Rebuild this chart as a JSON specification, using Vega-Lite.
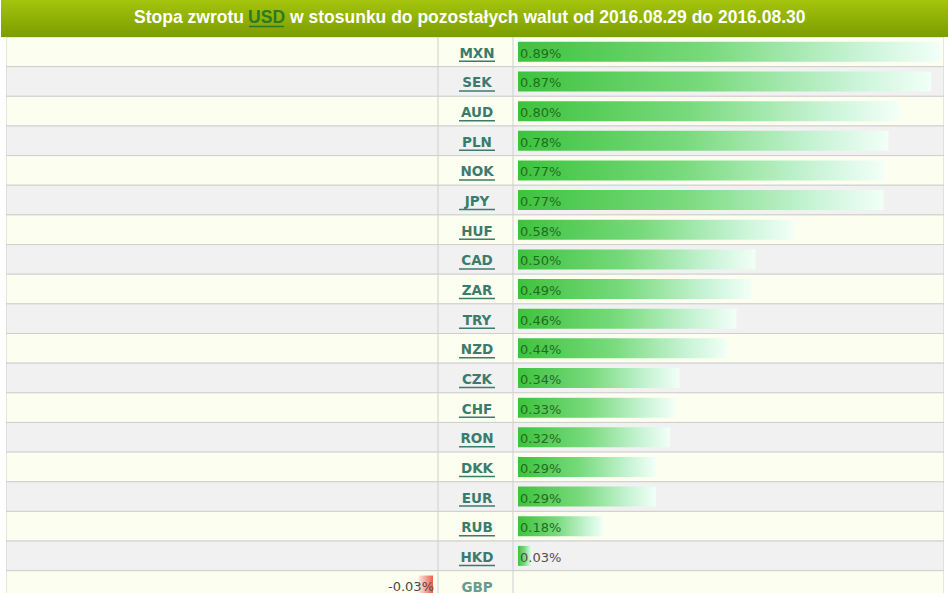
{
  "$schema": "https://vega.github.io/schema/vega-lite/v6.json",
  "padding": 0,
  "background": "white",
  "spacing": 0,
  "bounds": "flush",
  "config": {"view": {"stroke": null}, "axis": {"disable": true}, "concat": {"spacing": 0}},
  "datasets": {
    "rates": [
      {"ccy": "MXN", "value": 0.89},
      {"ccy": "SEK", "value": 0.87},
      {"ccy": "AUD", "value": 0.80},
      {"ccy": "PLN", "value": 0.78},
      {"ccy": "NOK", "value": 0.77},
      {"ccy": "JPY", "value": 0.77},
      {"ccy": "HUF", "value": 0.58},
      {"ccy": "CAD", "value": 0.50},
      {"ccy": "ZAR", "value": 0.49},
      {"ccy": "TRY", "value": 0.46},
      {"ccy": "NZD", "value": 0.44},
      {"ccy": "CZK", "value": 0.34},
      {"ccy": "CHF", "value": 0.33},
      {"ccy": "RON", "value": 0.32},
      {"ccy": "DKK", "value": 0.29},
      {"ccy": "EUR", "value": 0.29},
      {"ccy": "RUB", "value": 0.18},
      {"ccy": "HKD", "value": 0.03},
      {"ccy": "GBP", "value": -0.03}
    ],
    "heading": [
      {"before": "Stopa zwrotu", "base": "USD", "after": "w stosunku do pozostałych walut od 2016.08.29 do 2016.08.30"}
    ]
  },
  "vconcat": [
    {
      "width": 948,
      "height": 37,
      "data": {"name": "heading"},
      "layer": [
        {
          "mark": {"type": "rect", "fill": {"gradient": "linear", "x1": 0, "y1": 0, "x2": 0, "y2": 1, "stops": [{"offset": 0, "color": "#a5c40c"}, {"offset": 1, "color": "#7b9d00"}]}},
          "encoding": {
            "x": {"datum": 0, "type": "quantitative", "scale": {"domain": [0, 1]}, "axis": null},
            "x2": {"datum": 1},
            "y": {"datum": 0, "type": "quantitative", "scale": {"domain": [0, 1]}, "axis": null},
            "y2": {"datum": 1}
          }
        },
        {
          "mark": {"type": "text", "align": "right", "baseline": "middle", "font": "Liberation Sans", "fontWeight": "bold", "fontSize": 17.5, "color": "white", "dy": -1},
          "encoding": {
            "text": {"field": "before"},
            "x": {"datum": 0.2563, "type": "quantitative"},
            "y": {"datum": 0.5, "type": "quantitative"}
          }
        },
        {
          "mark": {"type": "text", "align": "center", "baseline": "middle", "font": "Liberation Sans", "fontWeight": "bold", "fontSize": 17.5, "color": "#2a7a25", "dy": -1},
          "encoding": {
            "text": {"field": "base"},
            "x": {"datum": 0.2801, "type": "quantitative"},
            "y": {"datum": 0.5, "type": "quantitative"}
          }
        },
        {
          "mark": {"type": "rule", "color": "#2a7a25", "strokeWidth": 1.5, "yOffset": 8},
          "encoding": {
            "x": {"datum": 0.2616, "type": "quantitative"},
            "x2": {"datum": 0.2985},
            "y": {"datum": 0.5, "type": "quantitative"}
          }
        },
        {
          "mark": {"type": "text", "align": "left", "baseline": "middle", "font": "Liberation Sans", "fontWeight": "bold", "fontSize": 17.5, "color": "white", "dy": -1},
          "encoding": {
            "text": {"field": "after"},
            "x": {"datum": 0.3049, "type": "quantitative"},
            "y": {"datum": 0.5, "type": "quantitative"}
          }
        }
      ]
    },
    {
      "spacing": 0,
      "bounds": "flush",
      "hconcat": [
        {
          "width": 5,
          "height": 556,
          "data": {"values": [{}]},
          "mark": {"type": "point", "opacity": 0},
          "encoding": {}
        },
        {
          "width": 432,
          "height": 556,
          "data": {"name": "rates"},
          "encoding": {
            "y": {"field": "ccy", "type": "nominal", "axis": null,
              "scale": {"domain": ["MXN","SEK","AUD","PLN","NOK","JPY","HUF","CAD","ZAR","TRY","NZD","CZK","CHF","RON","DKK","EUR","RUB","HKD","GBP"], "range": [0, 563.35], "paddingInner": 0, "paddingOuter": 0}}
          },
          "layer": [
            {
              "mark": {"type": "rect", "stroke": "#cfcfcf", "strokeWidth": 1, "clip": true},
              "encoding": {
                "fill": {"field": "ccy", "type": "nominal", "legend": null,
                  "scale": {"domain": ["MXN","SEK","AUD","PLN","NOK","JPY","HUF","CAD","ZAR","TRY","NZD","CZK","CHF","RON","DKK","EUR","RUB","HKD","GBP"],
                    "range": ["#fcffef","#f1f1f1","#fcffef","#f1f1f1","#fcffef","#f1f1f1","#fcffef","#f1f1f1","#fcffef","#f1f1f1","#fcffef","#f1f1f1","#fcffef","#f1f1f1","#fcffef","#f1f1f1","#fcffef","#f1f1f1","#fcffef"]}}
              }
            },
            {
              "transform": [{"filter": "datum.value < 0"}],
              "mark": {"type": "bar", "height": 20, "clip": true, "fill": {"gradient": "linear", "x1": 1, "y1": 0, "x2": 0, "y2": 0, "stops": [{"offset": 0, "color": "#e8604e"}, {"offset": 1, "color": "#fde6de"}]}},
              "encoding": {
                "x": {"field": "value", "type": "quantitative", "axis": null, "scale": {"domain": [-0.8989, 0.01053], "nice": false, "zero": false}},
                "x2": {"datum": 0}
              }
            },
            {
              "transform": [{"filter": "datum.value < 0"}],
              "mark": {"type": "text", "align": "right", "baseline": "middle", "dy": 1, "dx": 1, "font": "DejaVu Sans", "fontSize": 13, "color": "#4a4a4a", "clip": true,
                "text": {"expr": "(datum.value < 0 ? '-' : '') + format(abs(datum.value), '.2f') + '%'"}},
              "encoding": {
                "x": {"datum": 0, "type": "quantitative"}
              }
            }
          ]
        },
        {
          "width": 75,
          "height": 556,
          "data": {"name": "rates"},
          "encoding": {
            "y": {"field": "ccy", "type": "nominal", "axis": null,
              "scale": {"domain": ["MXN","SEK","AUD","PLN","NOK","JPY","HUF","CAD","ZAR","TRY","NZD","CZK","CHF","RON","DKK","EUR","RUB","HKD","GBP"], "range": [0, 563.35], "paddingInner": 0, "paddingOuter": 0}}
          },
          "layer": [
            {
              "mark": {"type": "rect", "stroke": "#cfcfcf", "strokeWidth": 1, "clip": true},
              "encoding": {
                "fill": {"field": "ccy", "type": "nominal", "legend": null,
                  "scale": {"domain": ["MXN","SEK","AUD","PLN","NOK","JPY","HUF","CAD","ZAR","TRY","NZD","CZK","CHF","RON","DKK","EUR","RUB","HKD","GBP"],
                    "range": ["#fcffef","#f1f1f1","#fcffef","#f1f1f1","#fcffef","#f1f1f1","#fcffef","#f1f1f1","#fcffef","#f1f1f1","#fcffef","#f1f1f1","#fcffef","#f1f1f1","#fcffef","#f1f1f1","#fcffef","#f1f1f1","#fcffef"]}}
              }
            },
            {
              "mark": {"type": "text", "align": "center", "baseline": "middle", "dy": 2, "font": "DejaVu Sans", "fontWeight": "bold", "fontSize": 13.5, "clip": true},
              "encoding": {
                "text": {"field": "ccy"},
                "x": {"datum": 0.52, "type": "quantitative", "scale": {"domain": [0, 1]}},
                "color": {"condition": {"test": "datum.value < 0", "value": "#6a9a8c"}, "value": "#3b7b6c"}
              }
            },
            {
              "transform": [{"filter": "datum.value >= 0"}],
              "mark": {"type": "rule", "color": "#3b7b6c", "strokeWidth": 1.5, "yOffset": 9.5, "clip": true},
              "encoding": {
                "x": {"datum": 0.28, "type": "quantitative"},
                "x2": {"datum": 0.76}
              }
            }
          ]
        },
        {
          "width": 431,
          "height": 556,
          "data": {"name": "rates"},
          "encoding": {
            "y": {"field": "ccy", "type": "nominal", "axis": null,
              "scale": {"domain": ["MXN","SEK","AUD","PLN","NOK","JPY","HUF","CAD","ZAR","TRY","NZD","CZK","CHF","RON","DKK","EUR","RUB","HKD","GBP"], "range": [0, 563.35], "paddingInner": 0, "paddingOuter": 0}}
          },
          "layer": [
            {
              "mark": {"type": "rect", "stroke": "#cfcfcf", "strokeWidth": 1, "clip": true},
              "encoding": {
                "fill": {"field": "ccy", "type": "nominal", "legend": null,
                  "scale": {"domain": ["MXN","SEK","AUD","PLN","NOK","JPY","HUF","CAD","ZAR","TRY","NZD","CZK","CHF","RON","DKK","EUR","RUB","HKD","GBP"],
                    "range": ["#fcffef","#f1f1f1","#fcffef","#f1f1f1","#fcffef","#f1f1f1","#fcffef","#f1f1f1","#fcffef","#f1f1f1","#fcffef","#f1f1f1","#fcffef","#f1f1f1","#fcffef","#f1f1f1","#fcffef","#f1f1f1","#fcffef"]}}
              }
            },
            {
              "transform": [{"filter": "datum.value > 0"}],
              "mark": {"type": "bar", "height": 20, "clip": true, "fill": {"gradient": "linear", "x1": 0, "y1": 0, "x2": 1, "y2": 0, "stops": [{"offset": 0, "color": "#3ec33e"}, {"offset": 0.45, "color": "#78da7c"}, {"offset": 0.8, "color": "#c6f3d4"}, {"offset": 1, "color": "#f2fff8"}]}},
              "encoding": {
                "x": {"field": "value", "type": "quantitative", "axis": null, "scale": {"domain": [-0.01053, 0.8968], "nice": false, "zero": false}},
                "x2": {"datum": 0}
              }
            },
            {
              "transform": [{"filter": "datum.value > 0"}],
              "mark": {"type": "text", "align": "left", "baseline": "middle", "dy": 2, "dx": 2, "font": "DejaVu Sans", "fontSize": 13, "clip": true,
                "text": {"expr": "format(datum.value, '.2f') + '%'"}},
              "encoding": {
                "x": {"datum": 0, "type": "quantitative"},
                "color": {"condition": {"test": "datum.value < 0.1", "value": "#4f4f4f"}, "value": "#236b23"}
              }
            }
          ]
        },
        {
          "width": 5,
          "height": 556,
          "data": {"values": [{}]},
          "mark": {"type": "point", "opacity": 0},
          "encoding": {}
        }
      ]
    }
  ]
}
